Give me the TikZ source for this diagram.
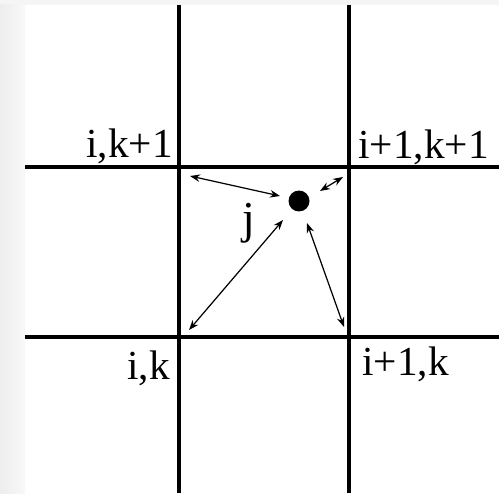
\documentclass[tikz,border=0pt]{standalone}
\usepackage{fontspec}
\setmainfont{Liberation Serif}
\usetikzlibrary{arrows.meta,positioning}

\begin{document}
\begin{tikzpicture}[
    x=0.02cm, y=-0.02cm,
    font=\fontsize{23.5}{27}\selectfont,
    gridline/.style={line width=2.2pt, black},
    link/.style={<->, >={Stealth[length=2mm,width=1.5mm]}, line width=0.7pt},
    cornerlabel/.style={inner sep=0pt}
]

% Page and frame
\useasboundingbox (0,0) rectangle (499,493);
\fill [gray!8] (0,0) rectangle (499,493);
\shade [left color=gray!14, right color=gray!5] (0,5) rectangle (25,493);
\fill [white] (25,5) rectangle (499,493);

% Grid lines
\draw [gridline] (179,5) -- (179,493);
\draw [gridline] (349,5) -- (349,493);
\draw [gridline] (25,167) -- (499,167);
\draw [gridline] (25,337) -- (499,337);

% Corner labels
\node (lik1) at (173,157) [anchor=base east, cornerlabel] {i,k+1};
\node (li1k1) at (358,158) [anchor=base west, cornerlabel] {i+1,k+1};
\node (lik) at (170,379) [anchor=base east, cornerlabel] {i,k};
\node (li1k) at (362,375) [anchor=base west, cornerlabel] {i+1,k};

% Point j
\node (pj) at (299,201) [circle, fill=black, minimum size=0.42cm, inner sep=0pt] {};
\node (lj) at (249,233) [anchor=base, inner sep=0pt, font=\fontsize{26}{30}\selectfont] {j};

% Arrow ends near the corners and near j
\coordinate (nw) at (190,176);
\coordinate (jnw) at (280,196);
\coordinate (ne) at (343,177);
\coordinate (jne) at (320,191);
\coordinate (sw) at (189,330);
\coordinate (jsw) at (283,220);
\coordinate (se) at (344,327);
\coordinate (jse) at (307,223);

% Distances to the corners
\draw [link] (nw) -- (jnw);
\draw [link] (jne) -- (ne);
\draw [link] (sw) -- (jsw);
\draw [link] (jse) -- (se);

\end{tikzpicture}
\end{document}
